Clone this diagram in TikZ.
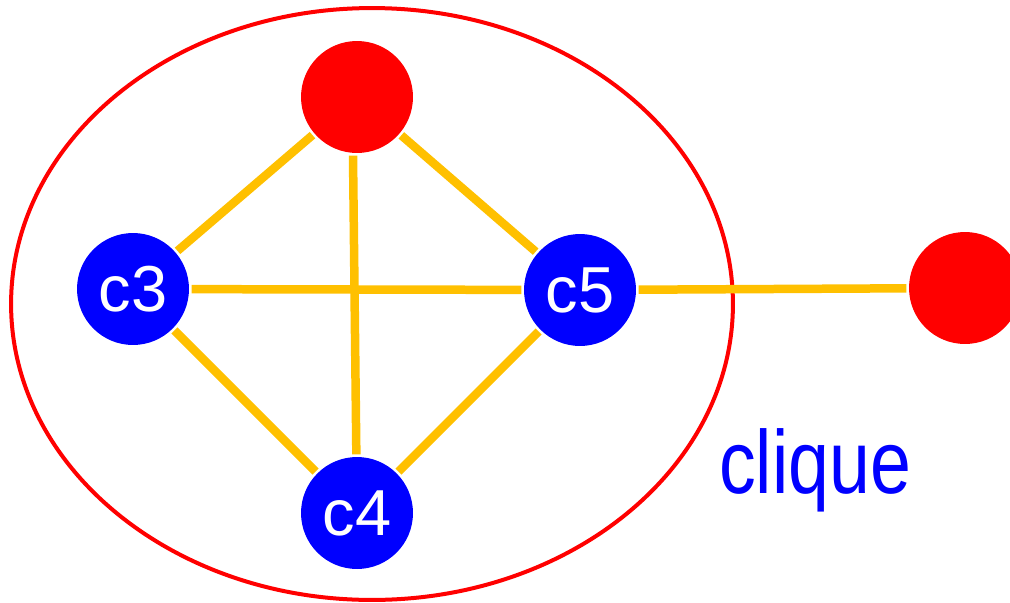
\documentclass[tikz,border=0pt]{standalone}
\usepackage{fontspec}
\setmainfont{Liberation Sans}
\newfontfamily\labelfont[FakeStretch=0.82]{Liberation Sans}
\usepackage{xcolor}
\usetikzlibrary{positioning}
\definecolor{nodered}{RGB}{255, 0, 0}
\definecolor{nodeblue}{RGB}{0, 0, 255}
\definecolor{edgeorange}{RGB}{255, 192, 0}
\newcommand{\vlabel}[1]{\raisebox{-0.3cm}{#1}}

\begin{document}
\begin{tikzpicture}[
  x=0.02cm, y=-0.02cm,
  vertex/.style={circle, minimum size=2.24cm, inner sep=0pt, outer sep=1.5pt},
  redvertex/.style={vertex, fill=nodered},
  bluevertex/.style={vertex, fill=nodeblue, text=white, font=\fontsize{37}{40}\selectfont},
  edge/.style={draw=edgeorange, line width=0.17cm}
]
  \useasboundingbox (0,0) rectangle (1010,602);

  % Clique boundary
  \draw[nodered, line width=0.08cm] (372,304) ellipse [x radius=7.22cm, y radius=5.92cm];

  % Vertices
  \node[redvertex]  (top)   at (357,97)  {};
  \node[bluevertex] (c3)    at (133,289) {\vlabel{c3}};
  \node[bluevertex] (c5)    at (580,290) {\vlabel{c5}};
  \node[bluevertex] (c4)    at (357,513) {\vlabel{c4}};
  \node[redvertex]  (outer) at (965,288) {};

  % Edges
  \draw[edge] (top) -- (c3);
  \draw[edge] (top) -- (c5);
  \draw[edge] ([xshift=-0.08cm]top.south) -- (c4);
  \draw[edge] (c3) -- (c5);
  \draw[edge] (c3) -- (c4);
  \draw[edge] (c5) -- (c4);
  \draw[edge] (c5) -- (outer);

  % Label
  \node[text=nodeblue, font=\labelfont\fontsize{51}{56}\selectfont] (cliquelabel) at (815,470) {clique};
\end{tikzpicture}
\end{document}
